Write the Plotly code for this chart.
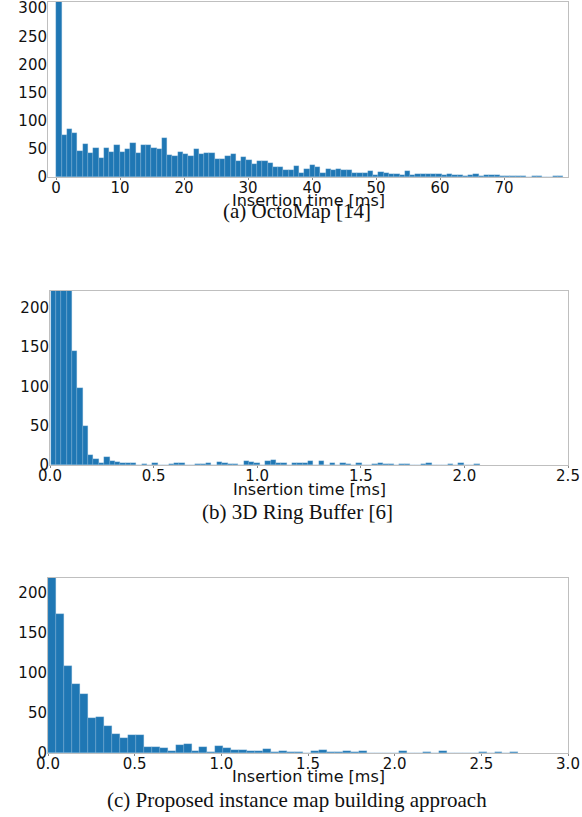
import plotly.graph_objects as go

# ---------------- data (histogram bin counts) ----------------
# (a) OctoMap: bins start at 0.05 ms, width 0.825 ms
octomap_bin_start = 0.05
octomap_bin_width = 0.825
octomap_counts = [
    420, 75, 85, 78, 46, 59, 43, 51, 33, 52,
    45, 56, 45, 50, 60, 43, 57, 56, 51, 50,
    69, 39, 38, 45, 41, 38, 50, 40, 42, 43,
    32, 32, 38, 40, 29, 36, 31, 23, 28, 29,
    25, 17, 18, 13, 13, 19, 7, 15, 22, 18,
    8, 15, 12, 15, 12, 12, 8, 7, 8, 10,
    4, 9, 7, 6, 5, 3, 10, 4, 5, 5,
    6, 6, 5, 4, 5, 4, 3, 1, 3, 6,
    2, 3, 3, 3, 1, 1, 1, 1, 1, 0,
    1, 1, 0, 0, 1, 1,
]

# (b) 3D Ring Buffer: bins start at 0.0024 ms, width 0.0259 ms
ring_bin_start = 0.0024
ring_bin_width = 0.0259
ring_counts = [
    420, 560, 480, 330, 145, 98, 50, 13, 8, 3,
    10, 5, 4, 3, 2, 2, 0, 1, 0, 3,
    0, 0, 1, 2, 2, 0, 0, 1, 1, 2,
    0, 4, 2, 1, 1, 0, 5, 4, 2, 0,
    5, 6, 2, 3, 0, 2, 3, 2, 5, 0,
    5, 0, 2, 0, 3, 1, 0, 3, 0, 0,
    1, 2, 1, 1, 0, 1, 1, 0, 0, 1,
    2, 0, 0, 0, 1, 0, 2, 0, 0, 1,
]

# (c) Proposed approach: bins start at 0 ms, width 0.046 ms
prop_bin_start = 0.0
prop_bin_width = 0.046
prop_counts = [
    320, 173, 109, 86, 74, 43, 45, 34, 24, 19,
    22, 23, 7, 7, 6, 3, 10, 11, 2, 7,
    1, 9, 6, 4, 4, 2, 3, 5, 1, 3,
    1, 1, 0, 2, 4, 1, 1, 2, 1, 2,
    0, 0, 0, 0, 3, 0, 0, 1, 0, 2,
    0, 0, 0, 0, 1, 0, 1, 0, 1,
]

x_title = "Insertion time [ms]"
captions = ["(a) OctoMap [14]", "(b) 3D Ring Buffer [6]",
            "(c) Proposed instance map building approach"]

a_xticks = [0, 10, 20, 30, 40, 50, 60, 70]
a_yticks = [0, 50, 100, 150, 200, 250, 300]
b_xticks = [0.0, 0.5, 1.0, 1.5, 2.0, 2.5]
b_yticks = [0, 50, 100, 150, 200]
c_xticks = [0.0, 0.5, 1.0, 1.5, 2.0, 2.5, 3.0]
c_yticks = [0, 50, 100, 150, 200]

# ---------------- figure ----------------
W, H = 582, 817
BAR = "#1f77b4"
SPINE = "#bfbfbf"
TICKFONT = dict(family="DejaVu Sans", size=15, color="#111111")


def centers(start, width, counts):
    return [start + width * (i + 0.5) for i in range(len(counts))]


fig = go.Figure()
panels = [
    (octomap_bin_start, octomap_bin_width, octomap_counts, "x", "y"),
    (ring_bin_start, ring_bin_width, ring_counts, "x2", "y2"),
    (prop_bin_start, prop_bin_width, prop_counts, "x3", "y3"),
]
for start, width, counts, xa, ya in panels:
    fig.add_trace(go.Bar(
        x=centers(start, width, counts), y=counts, width=width,
        marker=dict(color=BAR, line=dict(color="rgba(150,190,222,0.7)", width=0.4)),
        xaxis=xa, yaxis=ya, showlegend=False, hoverinfo="x+y",
    ))


def ydom(top_px, bottom_px):
    return [1 - bottom_px / H, 1 - top_px / H]


common_x = dict(showline=True, mirror=True, linecolor=SPINE, linewidth=1,
                ticks="outside", ticklen=2, tickcolor="#888888", automargin=False,
                showgrid=False, zeroline=False, tickfont=TICKFONT,
                ticklabeloverflow="allow", ticklabelstandoff=-5)
common_y = dict(showline=True, mirror=True, linecolor=SPINE, linewidth=1,
                ticks="", showgrid=False, zeroline=False, tickfont=TICKFONT,
                automargin=False, ticklabeloverflow="allow", ticklabelstandoff=-3)

fig.update_layout(
    width=W, height=H, margin=dict(l=0, r=0, t=0, b=0),
    paper_bgcolor="white", plot_bgcolor="white", bargap=0,
    xaxis=dict(domain=[48 / W, 568 / W], range=[-1.25, 80], anchor="y",
               tickvals=a_xticks, ticktext=[str(v) for v in a_xticks], **common_x),
    yaxis=dict(domain=ydom(2, 177), range=[0, 311], anchor="x",
               tickvals=a_yticks, **common_y),
    xaxis2=dict(domain=[50 / W, 568 / W], range=[0, 2.5], anchor="y2",
                tickvals=b_xticks, ticktext=[f"{v:.1f}" for v in b_xticks], **common_x),
    yaxis2=dict(domain=ydom(291, 465), range=[0, 221], anchor="x2",
                tickvals=b_yticks, **common_y),
    xaxis3=dict(domain=[48 / W, 568 / W], range=[0, 3.0], anchor="y3",
                tickvals=c_xticks, ticktext=[f"{v:.1f}" for v in c_xticks], **common_x),
    yaxis3=dict(domain=ydom(578, 753), range=[0, 218], anchor="x3",
                tickvals=c_yticks, **common_y),
)

# axis titles and captions (positions in pixels -> paper coords)
for cx, cy in [(308, 200), (309, 489), (308, 776)]:
    fig.add_annotation(text=x_title, x=cx / W, y=1 - cy / H, xref="paper", yref="paper",
                       showarrow=False, xanchor="center", yanchor="middle",
                       font=dict(family="DejaVu Sans", size=16, color="#111111"))
for cap, cy in zip(captions, [211, 512, 800]):
    fig.add_annotation(text=cap, x=297 / W, y=1 - cy / H, xref="paper", yref="paper",
                       showarrow=False, xanchor="center", yanchor="middle",
                       font=dict(family="Liberation Serif", size=21, color="#111111"))

fig.write_html("out.html", config={"displayModeBar": False},
               post_script="document.body.style.margin='0';")
